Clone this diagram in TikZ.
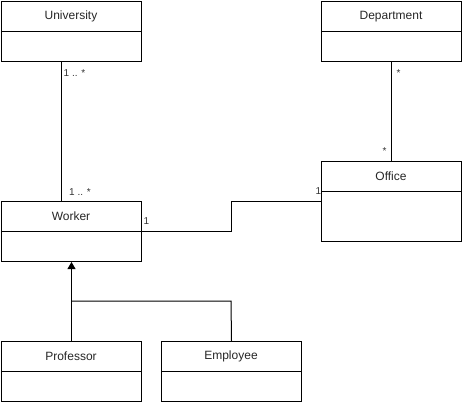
\documentclass[tikz,border=0pt]{standalone}
\usepackage{fontspec}
\setmainfont{Liberation Sans}
\usetikzlibrary{arrows.meta}
\begin{document}
\begin{tikzpicture}[x=1pt,y=-1pt,
  cls/.style={draw=black,line width=1pt,minimum width=140pt,minimum height=60pt,inner sep=0pt,anchor=north west},
  ttl/.style={font=\fontsize{12}{14}\selectfont,text=black!85},
  lbl/.style={font=\fontsize{10}{12}\selectfont,text=black!80,inner sep=0pt},
  conn/.style={line width=1pt,draw=black},
  gen/.style={conn,-{Triangle[length=7pt,width=8pt]}}]
\useasboundingbox (-0.5,-0.5) rectangle (461.5,401.5);
% boxes
\node[cls] (uni) at (0.5,0.5) {};
\node[cls] (dep) at (320.5,0.5) {};
\node[cls,minimum height=80pt] (off) at (320.5,160.5) {};
\node[cls] (wrk) at (0.5,200.5) {};
\node[cls] (prof) at (0.5,340.5) {};
\node[cls] (emp) at (160.5,340.5) {};
% dividers
\foreach \n in {uni,dep,wrk,prof,emp,off} {\draw[conn] ([yshift=-30pt]\n.north west) -- ([yshift=-30pt]\n.north east);}
% titles
\node[ttl] (tuni) at (70.5,16) {University};
\node[ttl] (tdep) at (390.5,16) {Department};
\node[ttl] (toff) at (390.5,176) {Office};
\node[ttl] (twrk) at (70.5,216) {Worker};
\node[ttl] (tprof) at (70.5,356) {Professor};
\node[ttl] (temp) at (230.5,356) {Employee};
% connectors
\draw[conn] ([xshift=-10pt]uni.south) -- ([xshift=-10pt]wrk.north);
\draw[conn] (dep.south) -- (off.north);
\coordinate (w1) at (230.5,230.5);
\coordinate (w2) at (230.5,200.5);
\draw[conn] (wrk.east |- w1) -- (w1) -- (w2) -- (off.west |- w2);
\draw[gen] (prof.north) -- (wrk.south);
\coordinate (g1) at (230.5,300.5);
\coordinate (g2) at (70.5,300.5);
\draw[conn] (emp.north) -- (g1) -- (g2);
% labels
\node[lbl,anchor=west] (l1) at (63,72.5) {1 .. *};
\node[lbl,anchor=west] (l2) at (68.5,191.5) {1 .. *};
\node[lbl,anchor=west] (l3) at (396,72.5) {*};
\node[lbl,anchor=west] (l4) at (382,150.5) {*};
\node[lbl,anchor=west] (l5) at (143,221) {1};
\node[lbl,anchor=west] (l6) at (315,191) {1};
\end{tikzpicture}
\end{document}
